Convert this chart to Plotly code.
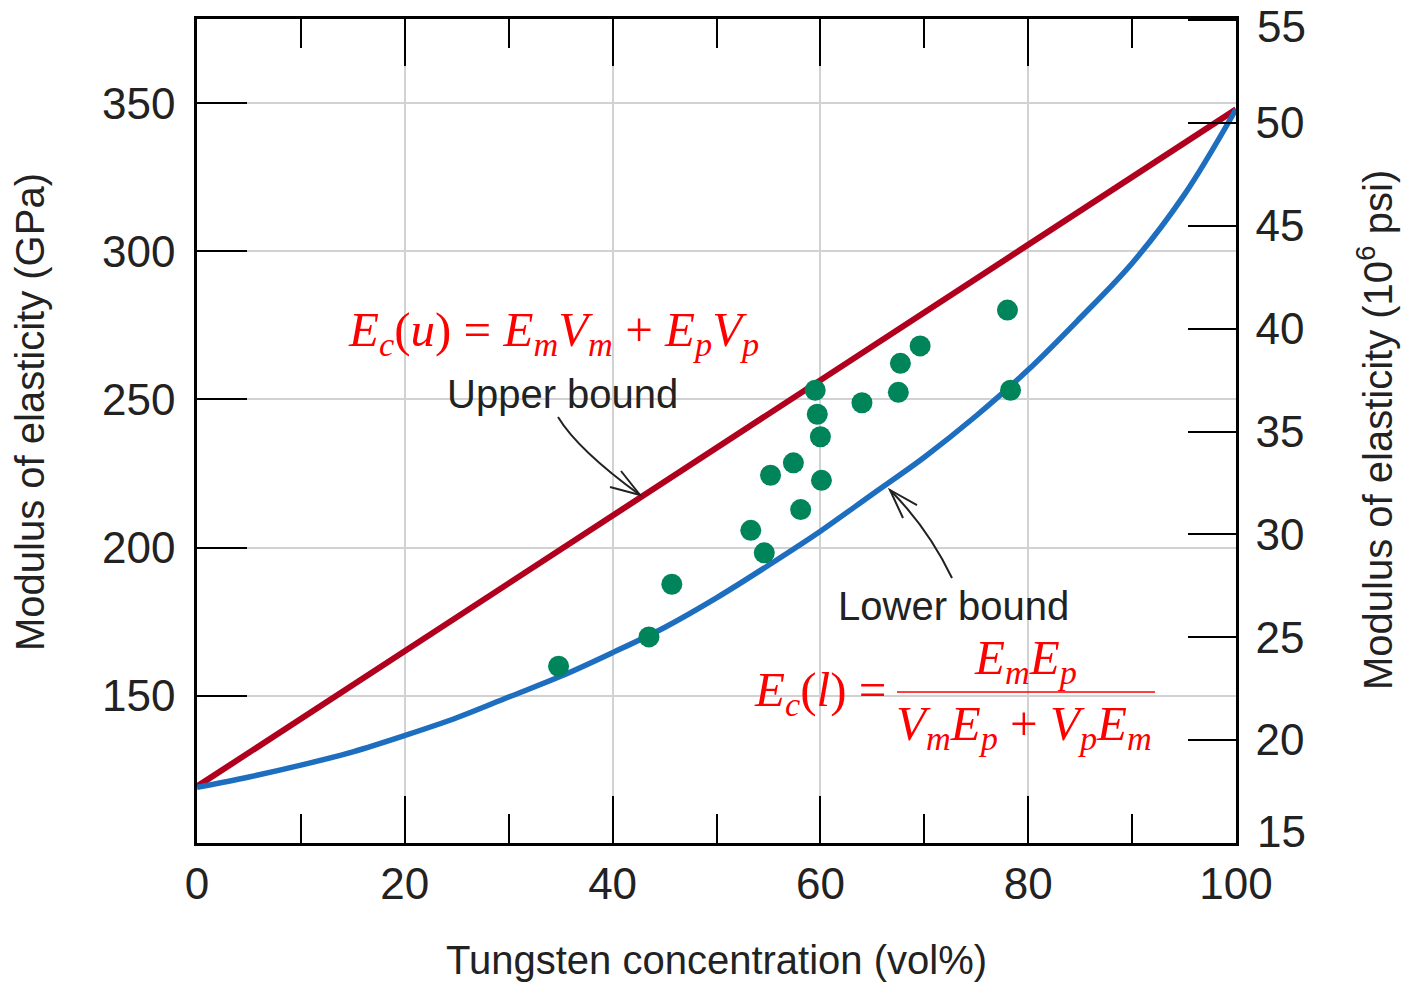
import plotly.graph_objects as go

# ---------------- data ----------------
tungsten_pct = [34.8, 43.5, 45.7, 53.3, 54.6, 55.2, 57.4, 58.1, 59.5, 59.7,
                60.0, 60.1, 64.0, 67.5, 67.7, 69.6, 78.0, 78.3]
modulus_gpa = [159.9, 169.8, 187.6, 205.8, 198.2, 224.4, 228.6, 212.8, 253.1, 245.0,
               237.4, 222.7, 248.9, 252.4, 262.2, 268.1, 280.2, 253.1]

upper_x = [0, 100]
upper_y = [119.3, 348.0]

lower_x = [0, 5, 10, 15, 20, 25, 30, 35, 40, 45, 50,
           55, 60, 65, 70, 75, 80, 85, 90, 95, 100]
lower_y = [119.0, 122.5, 126.5, 131.0, 136.5, 142.5, 149.5, 156.5, 164.5, 173.0, 183.0,
           194.0, 205.5, 218.0, 230.5, 244.5, 260.0, 277.5, 296.0, 319.0, 348.0]

x_ticks = [0, 20, 40, 60, 80, 100]
gpa_ticks = [150, 200, 250, 300, 350]
psi_ticks = [15, 20, 25, 30, 35, 40, 45, 50, 55]
# end labels "15" and "55" are drawn as separate texts (the bottom one is lifted)
psi_labels = ["", "20", "25", "30", "35", "40", "45", "50", ""]

# ---------------- layout geometry ----------------
W, H = 1402, 985
L, R, T, B = 197, 1236, 19, 843   # plot area in pixels


def pp(xp, yp):
    """pixel position -> paper coordinates"""
    return (xp - L) / (R - L), (B - yp) / (B - T)


RED = "#B0001E"
BLUE = "#1E6EC0"
GREEN = "#00855A"
EQ_RED = "#FF0000"
TXT = "#222222"
SANS = "Liberation Sans, Arial, sans-serif"
SERIF = "Liberation Serif, Times New Roman, serif"

fig = go.Figure()
fig.add_trace(go.Scatter(x=upper_x, y=upper_y, mode="lines",
                         line=dict(color=RED, width=6), showlegend=False))
fig.add_trace(go.Scatter(x=lower_x, y=lower_y, mode="lines",
                         line=dict(color=BLUE, width=5.5, shape="spline"),
                         showlegend=False))
fig.add_trace(go.Scatter(x=tungsten_pct, y=modulus_gpa, mode="markers",
                         marker=dict(color=GREEN, size=21, line=dict(width=0)),
                         showlegend=False))
# invisible trace to activate the right (psi) axis
fig.add_trace(go.Scatter(x=[None], y=[None], yaxis="y2", showlegend=False))

tickfont = dict(family=SANS, size=44, color=TXT)

fig.update_layout(
    width=W, height=H,
    margin=dict(l=L, r=W - R, t=T, b=H - B),
    plot_bgcolor="white", paper_bgcolor="white",
    xaxis=dict(range=[0, 100], tickvals=x_ticks, ticks="inside", ticklen=47,
               tickwidth=2, tickcolor="black", showline=True, linecolor="black",
               linewidth=2.5, mirror="ticks", showgrid=True, gridcolor="#d2d2d2",
               gridwidth=1.5, zeroline=False, tickfont=tickfont,
               minor=dict(dtick=10, tick0=0, ticks="inside", ticklen=29,
                          tickwidth=2, tickcolor="black", showgrid=False)),
    yaxis=dict(range=[100.2, 378.5], tickvals=gpa_ticks, ticks="inside", ticklen=50,
               tickwidth=2, tickcolor="black", showline=True, linecolor="black",
               linewidth=2.5, mirror=True, showgrid=True, gridcolor="#d2d2d2",
               gridwidth=1.5, zeroline=False, tickfont=tickfont,
               ticklabelstandoff=10),
    yaxis2=dict(range=[14.99, 55.06], tickvals=psi_ticks, ticktext=psi_labels,
                overlaying="y", side="right",
                ticks="inside", ticklen=48, tickwidth=2, tickcolor="black",
                showline=True, linecolor="black", linewidth=2.5, showgrid=False,
                zeroline=False, tickfont=tickfont, ticklabelstandoff=8),
)

ann = []


def add_text(xp, yp, text, size, family, color, angle=0, xanchor="center"):
    x, y = pp(xp, yp)
    ann.append(dict(x=x, y=y, xref="paper", yref="paper", text=text, showarrow=False,
                    font=dict(family=family, size=size, color=color),
                    textangle=angle, xanchor=xanchor, yanchor="middle"))


# end labels of the right axis
add_text(1255, 831, str(psi_ticks[0]), 44, SANS, TXT, xanchor="left")
add_text(1255, 27, str(psi_ticks[-1]), 44, SANS, TXT, xanchor="left")

# axis titles
add_text(30, 412, "Modulus of elasticity (GPa)", 40, SANS, TXT, angle=-90)
add_text(1375, 430, "Modulus of elasticity (10<sup>6</sup> psi)", 40, SANS, TXT, angle=-90)
add_text(716, 960, "Tungsten concentration (vol%)", 40, SANS, TXT)

# curve labels
add_text(562, 394, "Upper bound", 40, SANS, TXT)
add_text(953, 606, "Lower bound", 40, SANS, TXT)

# equations
add_text(553, 332,
         "<i>E</i><sub><i>c</i></sub>(<i>u</i>) = <i>E</i><sub><i>m</i></sub>"
         "<i>V</i><sub><i>m</i></sub> + <i>E</i><sub><i>p</i></sub><i>V</i><sub><i>p</i></sub>",
         49, SERIF, EQ_RED)
add_text(888, 692, "<i>E</i><sub><i>c</i></sub>(<i>l</i>) =", 49, SERIF, EQ_RED,
         xanchor="right")
add_text(1025, 660, "<i>E</i><sub><i>m</i></sub><i>E</i><sub><i>p</i></sub>", 49, SERIF, EQ_RED)
add_text(1024, 726,
         "<i>V</i><sub><i>m</i></sub><i>E</i><sub><i>p</i></sub> + "
         "<i>V</i><sub><i>p</i></sub><i>E</i><sub><i>m</i></sub>", 49, SERIF, EQ_RED)

fig.update_layout(annotations=ann)


def path(points_cmd):
    out = []
    for item in points_cmd:
        if isinstance(item, str):
            out.append(item)
        else:
            x, y = pp(*item)
            out.append(f"{x:.5f},{y:.5f}")
    return " ".join(out)


shapes = []
# fraction bar
x0, y0 = pp(897, 692)
x1, y1 = pp(1155, 692)
shapes.append(dict(type="line", xref="paper", yref="paper", x0=x0, y0=y0, x1=x1, y1=y1,
                   line=dict(color=EQ_RED, width=1.6)))
# upper bound arrow
shapes.append(dict(type="path", xref="paper", yref="paper",
                   path=path(["M", (558, 417), "Q", (578, 450), (640, 495)]),
                   line=dict(color=TXT, width=2)))
shapes.append(dict(type="path", xref="paper", yref="paper",
                   path=path(["M", (610, 487), "L", (640, 495), "L", (621, 471)]),
                   line=dict(color=TXT, width=2)))
# lower bound arrow
shapes.append(dict(type="path", xref="paper", yref="paper",
                   path=path(["M", (952, 578), "Q", (928, 528), (890, 490)]),
                   line=dict(color=TXT, width=2)))
shapes.append(dict(type="path", xref="paper", yref="paper",
                   path=path(["M", (917, 505), "L", (890, 490), "L", (903, 518)]),
                   line=dict(color=TXT, width=2)))
fig.update_layout(shapes=shapes)

fig.write_html(
    "out.html",
    config={"displayModeBar": False},
    post_script="document.body.style.margin='0';document.body.style.overflow='hidden';",
)
